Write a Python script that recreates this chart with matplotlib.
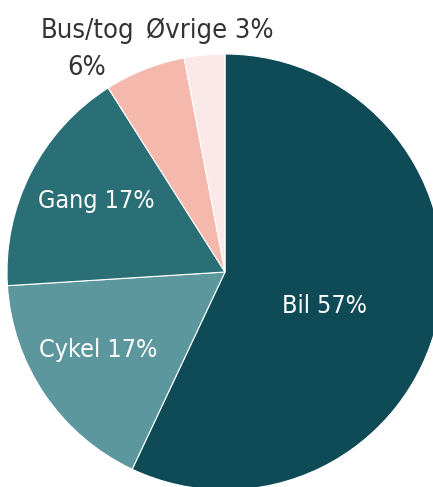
import matplotlib.pyplot as plt

# travel mode shares (%)
labels = ['Bil', 'Cykel', 'Gang', 'Bus/tog', 'Øvrige']
shares = [57, 17, 17, 6, 3]
colors = ['#0f4a57', '#5c979d', '#2b6f76', '#f5b8ad', '#fbe8e8']

plt.rcParams['font.family'] = ['DejaVu Sans']

fig = plt.figure(figsize=(4.33, 4.87), dpi=100)
ax = fig.add_axes([0, 0, 1, 1])
ax.set_aspect('equal')
ax.axis('off')

H = 487  # image height, labels placed in pixel coords from top
ax.pie(shares, colors=colors, startangle=90, counterclock=False,
       center=(225, H - 272), radius=218,
       wedgeprops=dict(edgecolor='white', linewidth=0.8))
ax.set_xlim(0, 433)
ax.set_ylim(0, H)

txt = dict(ha='center', va='baseline', fontstretch='condensed')
# labels inside slices (white)
ax.text(324, H - 313, 'Bil 57%', color='white', fontsize=18, **txt)
ax.text(98, H - 357, 'Cykel 17%', color='white', fontsize=18, **txt)
ax.text(96, H - 208, 'Gang 17%', color='white', fontsize=18, **txt)

# labels above the pie
ax.text(87, H - 38, 'Bus/tog', color='#333333', fontsize=19.5, **txt)
ax.text(87, H - 75, '6%', color='#333333', fontsize=19.5, **txt)
ax.text(210, H - 38, 'Øvrige 3%', color='#333333', fontsize=19.5, **txt)

fig.savefig('out.png', dpi=100)
